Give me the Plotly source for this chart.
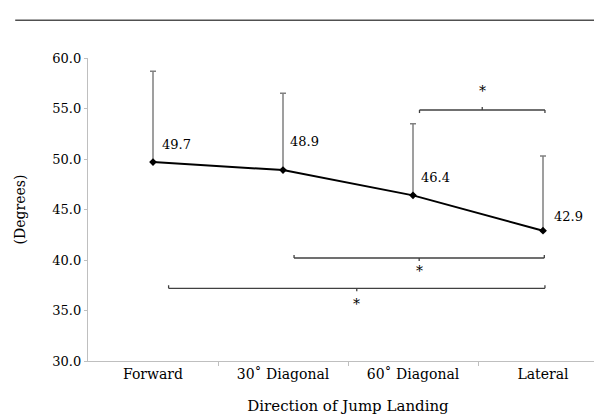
import plotly.graph_objects as go

categories = ["Forward", "30˚ Diagonal", "60˚ Diagonal", "Lateral"]
means = [49.7, 48.9, 46.4, 42.9]
sd_upper = [9.0, 7.6, 7.1, 7.4]
mean_labels = ["49.7", "48.9", "46.4", "42.9"]
label_y = [51.4, 51.7, 48.2, 44.3]
label_dx = [0.05, 0.04, 0.045, 0.07]

# significance brackets: (x_start, x_end, y, end-tick direction, star y)
brackets = [
    (2.05, 3.015, 54.85, -1, 56.7),
    (1.085, 3.01, 40.2, 1, 38.9),
    (0.12, 3.015, 37.2, 1, 35.6),
]

FONT = "DejaVu Serif"

fig = go.Figure()
xs = list(range(len(categories)))
fig.add_trace(go.Scatter(
    x=xs, y=means, mode="lines+markers",
    line=dict(color="black", width=2),
    marker=dict(symbol="diamond", size=6, color="black"),
    error_y=dict(type="data", symmetric=False, array=sd_upper,
                 arrayminus=[0] * len(means), color="#808080",
                 thickness=1.5, width=3),
    showlegend=False, hoverinfo="skip",
))

for i, (lab, ly, dx) in enumerate(zip(mean_labels, label_y, label_dx)):
    fig.add_annotation(x=xs[i] + dx, y=ly, text=lab, showarrow=False,
                       xanchor="left", yanchor="middle",
                       font=dict(family=FONT, size=13, color="black"))

tick = 0.3  # data units for small bracket ticks
for x0, x1, y, d, sy in brackets:
    col = "#404040"
    fig.add_shape(type="line", x0=x0, x1=x1, y0=y, y1=y,
                  line=dict(color=col, width=1.3))
    fig.add_shape(type="line", x0=x0, x1=x0, y0=y, y1=y + d * tick,
                  line=dict(color=col, width=1.3))
    fig.add_shape(type="line", x0=x1, x1=x1, y0=y, y1=y + d * tick,
                  line=dict(color=col, width=1.3))
    xm = (x0 + x1) / 2
    fig.add_shape(type="line", x0=xm, x1=xm, y0=y, y1=y - d * tick,
                  line=dict(color=col, width=1.3))
    fig.add_annotation(x=xm, y=sy, text="*", showarrow=False,
                       xanchor="center", yanchor="middle",
                       font=dict(family=FONT, size=14, color="black"))

# top rule line
fig.add_shape(type="line", xref="paper", yref="paper",
              x0=-0.14, x1=1.01, y0=1.125, y1=1.125,
              line=dict(color="#505050", width=1.5))

fig.update_layout(
    width=602, height=417,
    margin=dict(l=80, r=2, t=50, b=64),
    paper_bgcolor="white", plot_bgcolor="white",
    font=dict(family=FONT, size=12, color="black"),
    xaxis=dict(
        range=[-0.5, 3.5], tickmode="array", tickvals=xs, ticktext=categories,
        ticks="", showline=True, linecolor="#bfbfbf", linewidth=1.3,
        showgrid=False, zeroline=False,
        tickfont=dict(family=FONT, size=14),
        title=dict(text="Direction of Jump Landing",
                   font=dict(family=FONT, size=15), standoff=19),
        minor=dict(tickmode="array", tickvals=[0.5, 1.5, 2.5],
                   ticks="outside", ticklen=4, tickcolor="#bfbfbf", tickwidth=1.3),
    ),
    yaxis=dict(
        range=[30, 60], tickmode="array", tickvals=[30, 35, 40, 45, 50, 55, 60],
        tickformat=".1f", ticks="outside", ticklen=3, tickcolor="#bfbfbf",
        showline=True, linecolor="#bfbfbf", linewidth=1.3,
        showgrid=False, zeroline=False,
        tickfont=dict(family=FONT, size=13),
        title=dict(text="(Degrees)", font=dict(family=FONT, size=14), standoff=23),
    ),
)

fig.write_html("out.html")
